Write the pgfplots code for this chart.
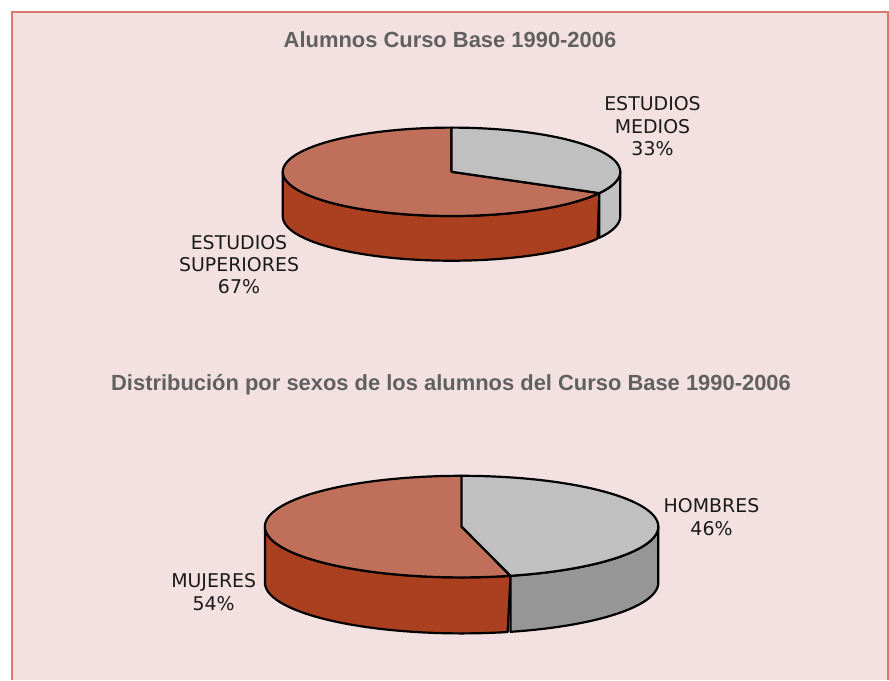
\documentclass[border=0pt]{standalone}
\usepackage{pgfplots}
\usepackage{pgfplotstable}
\pgfplotsset{compat=1.18}
\usepackage{fontspec}
\setmainfont{DejaVu Sans}
\newfontfamily\titlefont{Liberation Sans}

\definecolor{bgpink}{HTML}{F3E1E1}
\definecolor{bordercol}{HTML}{D9786C}
\definecolor{redtop}{HTML}{C0705A}
\definecolor{redside}{HTML}{AB4020}
\definecolor{graytop}{HTML}{C0C0C0}
\definecolor{grayside}{HTML}{969696}
\definecolor{titlegray}{HTML}{606060}
\definecolor{labelcol}{HTML}{1A1A1A}

% pie data (percent)
\pgfplotstableread{
slice value
MEDIOS 33
SUPERIORES 67
}\pieA
\pgfplotstableread{
slice value
HOMBRES 46
MUJERES 54
}\pieB

\pgfplotstablegetelem{0}{value}\of\pieA
\pgfmathsetmacro{\cutA}{90-3.6*\pgfplotsretval}
\pgfmathsetmacro{\cutAp}{360+\cutA}
\pgfplotstablegetelem{0}{value}\of\pieB
\pgfmathsetmacro{\cutB}{90-3.6*\pgfplotsretval}
\pgfmathsetmacro{\cutBp}{360+\cutB}

% #1 cx, #2 cy, #3 a, #4 b, #5 depth, #6 t1, #7 t2, #8 colour
\newcommand{\pieside}[8]{%
  \addplot[fill=#8, draw=black, line width=2.2bp, line join=round,
    domain=0:2, samples=241, variable=\s]
  ({#1 + #3*cos(ifthenelse(\s<1, #6+(#7-#6)*\s, #7-(#7-#6)*(\s-1)))},
   {#2 - #4*sin(ifthenelse(\s<1, #6+(#7-#6)*\s, #7-(#7-#6)*(\s-1))) + #5*(\s>=1)}) -- cycle;}
% #1 cx, #2 cy, #3 a, #4 b, #5 t1, #6 t2, #7 colour
\newcommand{\pietop}[7]{%
  \addplot[fill=#7, draw=black, line width=2.2bp, line join=round,
    domain=#5:#6, samples=150, variable=\t]
  ({#1 + #3*cos(\t)}, {#2 - #4*sin(\t)}) -- (axis cs:#1,#2) -- cycle;}

\begin{document}
\begin{tikzpicture}
\fill[white] (0,0) rectangle (889bp,680bp);
\fill[bgpink] (12bp,0) rectangle (888bp,668bp);
\draw[bordercol, line width=1.5bp] (12bp,0) -- (12bp,668bp) -- (888bp,668bp) -- (888bp,0);
\begin{axis}[
  at={(0,0)}, anchor=south west,
  width=889bp, height=680bp, scale only axis,
  xmin=0, xmax=889, ymin=0, ymax=680, y dir=reverse,
  hide axis, clip=false]

% ---- pie 1
\pieside{451.5}{171.8}{168.7}{44.2}{44.7}{180}{\cutAp}{redside}
\pieside{451.5}{171.8}{168.7}{44.2}{44.7}{\cutAp}{360}{graytop}
\pietop{451.5}{171.8}{168.7}{44.2}{90}{\cutAp}{redtop}
\pietop{451.5}{171.8}{168.7}{44.2}{\cutA}{90}{graytop}

% ---- pie 2
\pieside{461.6}{526.6}{196.7}{50.8}{56}{180}{\cutBp}{redside}
\pieside{461.6}{526.6}{196.7}{50.8}{56}{\cutBp}{360}{grayside}
\pietop{461.6}{526.6}{196.7}{50.8}{90}{\cutBp}{redtop}
\pietop{461.6}{526.6}{196.7}{50.8}{\cutB}{90}{graytop}

% titles
\node[anchor=base, text=titlegray, font=\titlefont\bfseries\fontsize{22}{26}\selectfont]
  at (axis cs:450,47.3) {Alumnos Curso Base 1990-2006};
\node[anchor=base, text=titlegray, font=\titlefont\bfseries\fontsize{22}{26}\selectfont]
  at (axis cs:451,390) {Distribución por sexos de los alumnos del Curso Base 1990-2006};

% labels
\tikzset{lbl/.style={anchor=base, inner sep=0pt, text=labelcol, font=\fontsize{19}{23}\selectfont}}
\node[lbl] at (axis cs:652.5,110.7) {ESTUDIOS};
\node[lbl] at (axis cs:652.5,133.2) {MEDIOS};
\node[lbl] at (axis cs:652.5,155.7) {33\%};
\node[lbl] at (axis cs:239,249) {ESTUDIOS};
\node[lbl] at (axis cs:239,271.7) {SUPERIORES};
\node[lbl] at (axis cs:239,293) {67\%};
\node[lbl] at (axis cs:711.5,512.7) {HOMBRES};
\node[lbl] at (axis cs:711.5,535.7) {46\%};
\node[lbl] at (axis cs:213.7,587) {MUJERES};
\node[lbl] at (axis cs:213.7,610.7) {54\%};
\end{axis}
\end{tikzpicture}
\end{document}
